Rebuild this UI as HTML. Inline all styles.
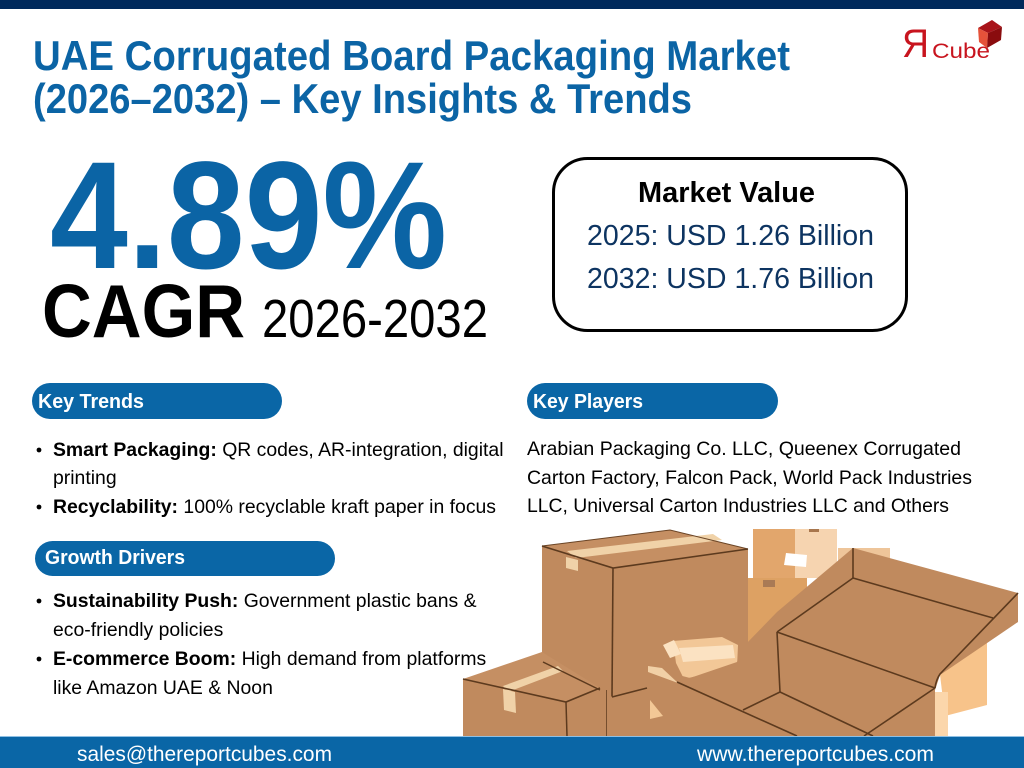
<!DOCTYPE html>
<html>
<head>
<meta charset="utf-8">
<style>
html,body{margin:0;padding:0;background:#fff;}
body{width:1024px;height:768px;overflow:hidden;}
svg{display:block;}
text{font-family:"Liberation Sans",Arial,sans-serif;}
</style>
</head>
<body>
<svg width="1024" height="768" viewBox="0 0 1024 768" xmlns="http://www.w3.org/2000/svg">
<rect width="1024" height="768" fill="#ffffff"/>
<rect x="0" y="0" width="1024" height="9" fill="#00295b"/>

<!-- Title -->
<text x="33" y="70" font-size="42" font-weight="bold" fill="#0b64a5" textLength="757" lengthAdjust="spacingAndGlyphs">UAE Corrugated Board Packaging Market</text>
<text x="33" y="113" font-size="42" font-weight="bold" fill="#0b64a5" textLength="659" lengthAdjust="spacingAndGlyphs">(2026–2032) – Key Insights &amp; Trends</text>

<!-- Logo -->
<text x="902" y="57" font-size="40" fill="#c8141e" textLength="27" lengthAdjust="spacingAndGlyphs">Я</text>
<text x="932" y="58" font-size="21" fill="#c8141e" textLength="58" lengthAdjust="spacingAndGlyphs">Cube</text>
<polygon points="978,28 992,20 1002,27 988,33" fill="#a8141a"/>
<polygon points="978,28 988,33 987,48 979,42" fill="#e5523a"/>
<polygon points="988,33 1002,27 1001,40 987,48" fill="#8a0c0e"/>

<!-- CAGR -->
<text x="50" y="268" font-size="153" font-weight="bold" fill="#0b64a5" textLength="397" lengthAdjust="spacingAndGlyphs">4.89%</text>
<text x="42" y="337" font-size="75" font-weight="bold" fill="#000" textLength="203" lengthAdjust="spacingAndGlyphs">CAGR</text>
<text x="262" y="337" font-size="54" fill="#000" textLength="226" lengthAdjust="spacingAndGlyphs">2026-2032</text>

<!-- Market value box -->
<rect x="553.5" y="158.5" width="353" height="172" rx="34" ry="34" fill="#fff" stroke="#000" stroke-width="3"/>
<text x="638" y="202" font-size="29" font-weight="bold" fill="#000" textLength="177" lengthAdjust="spacingAndGlyphs">Market Value</text>
<text x="587" y="245" font-size="29" fill="#0d3461" textLength="287" lengthAdjust="spacingAndGlyphs">2025: USD 1.26 Billion</text>
<text x="587" y="288" font-size="29" fill="#0d3461" textLength="287" lengthAdjust="spacingAndGlyphs">2032: USD 1.76 Billion</text>

<!-- Boxes illustration -->
<g>
<polygon points="838,548 890,548 890,562 838,562" fill="#eec59a"/>
<polygon points="753,529 795,529 795,578 753,578" fill="#e2a66c"/>
<polygon points="795,529 837,529 837,578 795,578" fill="#f6d4b0"/>
<polygon points="786,553 807,555 806,567 784,565" fill="#ffffff"/>
<rect x="809" y="529" width="10" height="3" fill="#a8764d"/>
<polygon points="745,578 807,578 807,640 745,650" fill="#dda163"/>
<rect x="763" y="580" width="12" height="7" fill="#a97a55"/>
<polygon points="937,650 987,640 987,705 945,716" fill="#f7c38a"/>
<rect x="933" y="692" width="15" height="44" fill="#fbd6ab"/>

<!-- big closed box -->
<polygon points="542,546 670,530 748,549 613,568" fill="#c58f63"/>
<polygon points="542,546 613,568 612,697 542,682" fill="#c08a5e"/>
<polygon points="613,568 748,549 748,695 612,697" fill="#c08a5e"/>
<polygon points="567,551 713,534 722,540 576,558" fill="#f0d2a8"/>
<polygon points="566,557 578,560 578,571 566,568" fill="#f0d2a8"/>
<polyline points="542,546 670,530 748,549" fill="none" stroke="#6b4526" stroke-width="1"/>
<polyline points="542,546 613,568 748,549" fill="none" stroke="#5c3a1e" stroke-width="1.6"/>
<line x1="613" y1="568" x2="612" y2="697" stroke="#5c3a1e" stroke-width="1.6"/>

<!-- middle box -->
<polygon points="606,690 612,697 647,688 662,690 662,736 606,736" fill="#c08a5e"/>
<line x1="612" y1="697" x2="647" y2="688" stroke="#5c3a1e" stroke-width="1.5"/>
<line x1="606" y1="690" x2="606" y2="736" stroke="#5c3a1e" stroke-width="1.5"/>

<!-- lower-left box -->
<polygon points="463,679 542,652 600,688 566,702" fill="#c58f63"/>
<polygon points="463,679 566,702 566,736 463,736" fill="#c08a5e"/>
<polygon points="566,702 600,688 606,690 606,736 566,736" fill="#c08a5e"/>
<polygon points="503,686 558,666 563,671 508,692" fill="#f0d2a8"/>
<polygon points="503,689 515,692 516,713 504,710" fill="#f0d2a8"/>
<polyline points="463,679 566,702 600,688" fill="none" stroke="#5c3a1e" stroke-width="1.6"/>
<line x1="543" y1="662" x2="600" y2="690" stroke="#5c3a1e" stroke-width="1.5"/>
<line x1="566" y1="702" x2="567" y2="736" stroke="#5c3a1e" stroke-width="1.5"/>

<!-- small open box -->
<polygon points="673,641 722,637 738,645 737,667 684,679 676,663" fill="#f2c797"/>
<polygon points="679,648 733,645 735,658 683,662" fill="#fbe2c2"/>
<polygon points="663,645 674,640 681,654 670,658" fill="#fbe2c2"/>

<!-- open tray -->
<polygon points="853,548 1018,593 1018,622 940,675 935,690 935,736 648,736 648,667 690,678 737,662 745,645 777,612" fill="#c08a5e"/>
<polygon points="648,666 662,668 678,683 648,672" fill="#f1d0a6"/>
<polygon points="650,700 663,716 650,719" fill="#f3c896"/>
<g stroke="#5c3a1e" stroke-width="1.6" fill="none">
<line x1="853" y1="548" x2="853" y2="578"/>
<line x1="853" y1="578" x2="993" y2="618"/>
<line x1="777" y1="632" x2="853" y2="578"/>
<line x1="777" y1="632" x2="935" y2="688"/>
<line x1="777" y1="632" x2="780" y2="692"/>
<path d="M1018,593 L940,674 Q936,680 935,688"/>
<line x1="780" y1="692" x2="873" y2="736"/>
<line x1="780" y1="692" x2="743" y2="710"/>
<line x1="935" y1="688" x2="864" y2="736"/>
<line x1="677" y1="682" x2="797" y2="736"/>
</g>
</g>

<!-- Key Trends -->
<rect x="32" y="383" width="250" height="36" rx="18" ry="18" fill="#0a66a6"/>
<text x="38" y="408" font-size="20.5" font-weight="bold" fill="#fff" textLength="106" lengthAdjust="spacingAndGlyphs">Key Trends</text>
<circle cx="39" cy="450" r="2.4" fill="#000"/>
<text x="53" y="456" font-size="19.4" fill="#000"><tspan font-weight="bold">Smart Packaging:</tspan> QR codes, AR-integration, digital</text>
<text x="53" y="484" font-size="19.4" fill="#000">printing</text>
<circle cx="39" cy="507" r="2.4" fill="#000"/>
<text x="53" y="513" font-size="19.4" fill="#000"><tspan font-weight="bold">Recyclability:</tspan> 100% recyclable kraft paper in focus</text>

<!-- Growth Drivers -->
<rect x="35" y="541" width="300" height="35" rx="17.5" ry="17.5" fill="#0a66a6"/>
<text x="45" y="564" font-size="20.5" font-weight="bold" fill="#fff" textLength="140" lengthAdjust="spacingAndGlyphs">Growth Drivers</text>
<circle cx="39" cy="601" r="2.4" fill="#000"/>
<text x="53" y="607" font-size="19.4" fill="#000"><tspan font-weight="bold">Sustainability Push:</tspan> Government plastic bans &amp;</text>
<text x="53" y="636" font-size="19.4" fill="#000">eco-friendly policies</text>
<circle cx="39" cy="659" r="2.4" fill="#000"/>
<text x="53" y="665" font-size="19.4" fill="#000"><tspan font-weight="bold">E-commerce Boom:</tspan> High demand from platforms</text>
<text x="53" y="694" font-size="19.4" fill="#000">like Amazon UAE &amp; Noon</text>

<!-- Key Players -->
<rect x="527" y="383" width="251" height="36" rx="18" ry="18" fill="#0a66a6"/>
<text x="533" y="408" font-size="20.5" font-weight="bold" fill="#fff" textLength="110" lengthAdjust="spacingAndGlyphs">Key Players</text>
<text x="527" y="455" font-size="19.4" fill="#000" textLength="434" lengthAdjust="spacingAndGlyphs">Arabian Packaging Co. LLC, Queenex Corrugated</text>
<text x="527" y="484" font-size="19.4" fill="#000" textLength="445" lengthAdjust="spacingAndGlyphs">Carton Factory, Falcon Pack, World Pack Industries</text>
<text x="527" y="512" font-size="19.4" fill="#000" textLength="422" lengthAdjust="spacingAndGlyphs">LLC, Universal Carton Industries LLC and Others</text>

<!-- Footer -->
<rect x="0" y="736" width="1024" height="32" fill="#0a66a6"/>
<rect x="0" y="736" width="1024" height="1" fill="#8fc0e4"/>
<text x="77" y="761" font-size="21" fill="#fff" textLength="255" lengthAdjust="spacingAndGlyphs">sales@thereportcubes.com</text>
<text x="697" y="761" font-size="21" fill="#fff" textLength="237" lengthAdjust="spacingAndGlyphs">www.thereportcubes.com</text>
</svg>
</body>
</html>
